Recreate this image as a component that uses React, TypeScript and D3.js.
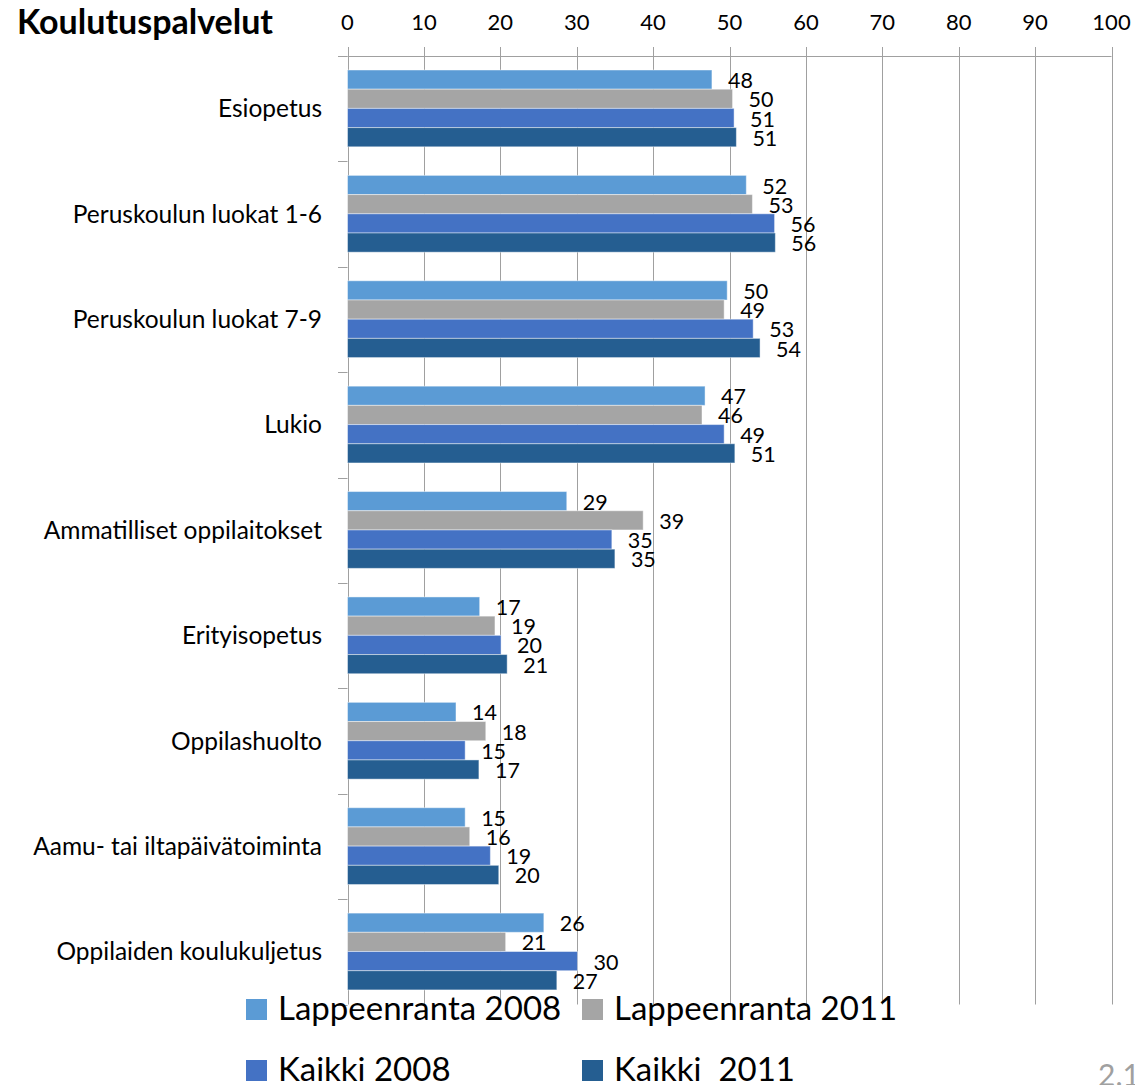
import React, { useEffect, useRef } from "react";
import * as d3 from "d3";

const categories = [
  "Esiopetus",
  "Peruskoulun luokat 1-6",
  "Peruskoulun luokat 7-9",
  "Lukio",
  "Ammatilliset oppilaitokset",
  "Erityisopetus",
  "Oppilashuolto",
  "Aamu- tai iltapäivätoiminta",
  "Oppilaiden koulukuljetus",
];

const seriesNames = ["Lappeenranta 2008", "Lappeenranta 2011", "Kaikki 2008", "Kaikki  2011"];
const seriesColours = ["#5b9bd5", "#a5a5a5", "#4472c4", "#255e91"];

const lpr2008 = [47.7, 52.2, 49.7, 46.8, 28.7, 17.3, 14.2, 15.4, 25.7];
const lpr2011 = [50.4, 53.0, 49.3, 46.4, 38.7, 19.3, 18.1, 16.0, 20.7];
const all2008 = [50.6, 55.9, 53.1, 49.3, 34.6, 20.1, 15.4, 18.7, 30.1];
const all2011 = [50.9, 56.0, 54.0, 50.7, 35.0, 20.9, 17.2, 19.8, 27.4];

const xTicks = [0, 10, 20, 30, 40, 50, 60, 70, 80, 90, 100];

const WIDTH = 1135;
const HEIGHT = 1085;
const FONT = "Lato, 'Open Sans', sans-serif";

const App = () => {
  const svgRef = useRef<SVGSVGElement>(null);

  useEffect(() => {
    const svg = d3.select(svgRef.current);
    svg.selectAll("*").remove();

    const plotTop = 56;
    const plotBottom = 1004.5;
    const gridTop = 47;

    const x = d3.scaleLinear().domain([0, 100]).range([347.5, 1111.5]);
    const y = d3.scaleBand().domain(categories).range([plotTop, plotBottom]).padding(0);
    const inner = d3.scaleBand().domain(seriesNames).range([14, 90.8]).padding(0);

    const allSeries = [lpr2008, lpr2011, all2008, all2011];

    // gridlines + tick labels
    const grid = svg.append("g");
    xTicks.forEach((t) => {
      grid.append("line")
        .attr("x1", Math.round(x(t)) + 0.5)
        .attr("x2", Math.round(x(t)) + 0.5)
        .attr("y1", gridTop)
        .attr("y2", plotBottom)
        .style("stroke", "#a0a0a0")
        .style("stroke-width", 1);
      grid.append("text")
        .attr("x", x(t))
        .attr("y", 30)
        .attr("text-anchor", "middle")
        .style("font-family", FONT)
        .style("font-size", "22px")
        .style("fill", "#000")
        .text(t);
    });

    // top axis line
    svg.append("line")
      .attr("x1", x(0))
      .attr("x2", x(100))
      .attr("y1", plotTop + 0.5)
      .attr("y2", plotTop + 0.5)
      .style("stroke", "#a0a0a0");

    // category ticks
    const bounds = categories.map((c) => y(c) as number).concat([plotBottom]);
    bounds.forEach((b) => {
      svg.append("line")
        .attr("x1", 338)
        .attr("x2", x(0))
        .attr("y1", Math.round(b) + 0.5)
        .attr("y2", Math.round(b) + 0.5)
        .style("stroke", "#a0a0a0");
    });

    // category labels
    svg.append("g")
      .selectAll("text")
      .data(categories)
      .join("text")
      .attr("x", 322)
      .attr("y", (d) => (y(d) as number) + y.bandwidth() / 2)
      .attr("dy", "0.35em")
      .attr("text-anchor", "end")
      .style("font-family", FONT)
      .style("font-size", "24.5px")
      .style("fill", "#000")
      .text((d) => d);

    // bars
    allSeries.forEach((vals, si) => {
      const g = svg.append("g");
      const name = seriesNames[si];
      g.selectAll("rect")
        .data(vals)
        .join("rect")
        .attr("x", x(0))
        .attr("y", (d, i) => (y(categories[i]) as number) + (inner(name) as number))
        .attr("width", (d) => x(d) - x(0))
        .attr("height", inner.bandwidth())
        .style("fill", seriesColours[si])
        .style("stroke", "rgba(255,255,255,0.45)")
        .style("stroke-width", 1);
      g.selectAll("text")
        .data(vals)
        .join("text")
        .attr("x", (d) => x(d) + 16)
        .attr("y", (d, i) => (y(categories[i]) as number) + (inner(name) as number) + inner.bandwidth() / 2 + 1)
        .attr("dy", "0.35em")
        .style("font-family", FONT)
        .style("font-size", "21.5px")
        .style("fill", "#000")
        .text((d) => Math.round(d));
    });

    // title
    svg.append("text")
      .attr("x", 17)
      .attr("y", 34)
      .style("font-family", FONT)
      .style("font-weight", "bold")
      .style("font-size", "34px")
      .style("fill", "#000")
      .text("Koulutuspalvelut");

    // legend
    const legendPos = [
      { sx: 246, sy: 999 },
      { sx: 582, sy: 999 },
      { sx: 246, sy: 1060 },
      { sx: 582, sy: 1060 },
    ];
    const legend = svg.append("g");
    seriesNames.forEach((n, i) => {
      const p = legendPos[i];
      legend.append("rect")
        .attr("x", p.sx)
        .attr("y", p.sy)
        .attr("width", 21)
        .attr("height", 21)
        .style("fill", seriesColours[i]);
      legend.append("text")
        .attr("x", p.sx + 32)
        .attr("y", p.sy + 21)
        .style("font-family", FONT)
        .style("font-size", "33px")
        .style("white-space", "pre")
        .style("fill", "#000")
        .text(n);
    });

    // page number
    svg.append("text")
      .attr("x", 1098)
      .attr("y", 1086)
      .style("font-family", FONT)
      .style("font-size", "30px")
      .style("fill", "#a0a0a0")
      .text("2.1");
  }, []);

  return (
    <svg
      ref={svgRef}
      width={WIDTH}
      height={HEIGHT}
      style={{ position: "absolute", left: 0, top: 0, background: "#fff" }}
    />
  );
};

export default App;
